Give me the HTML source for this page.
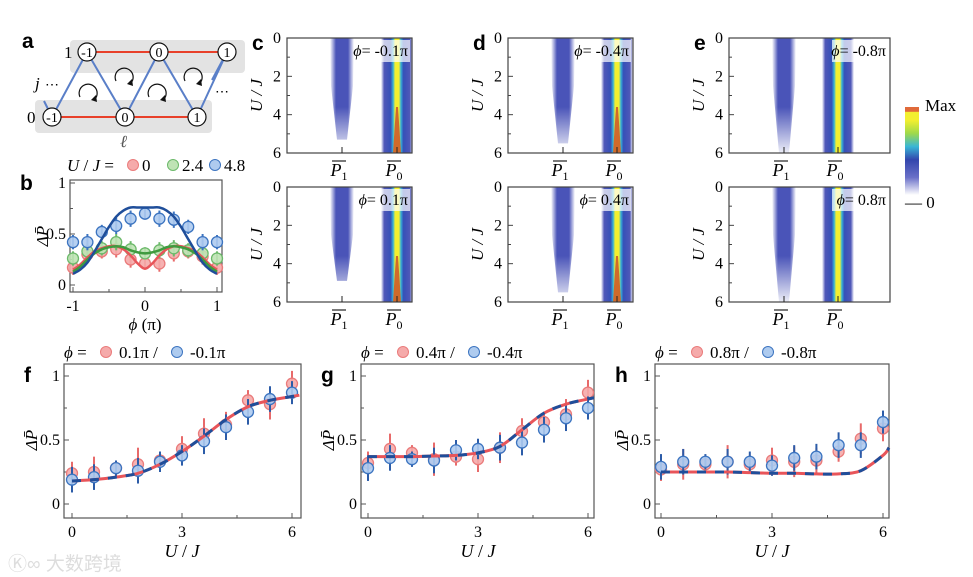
<!DOCTYPE html>
<html><head><meta charset="utf-8">
<style>
body{margin:0;background:#fff;}
svg{display:block;font-family:"Liberation Serif",serif;}
.lt{font-family:"Liberation Sans",sans-serif;font-weight:bold;font-size:21px;}
.tk{font-size:16px;}
.it{font-style:italic;}
</style></head>
<body>
<svg id="fig" width="973" height="577" viewBox="0 0 973 577" xmlns="http://www.w3.org/2000/svg">
<defs>
<linearGradient id="p0g" x1="0" x2="1" y1="0" y2="0">
<stop offset="0" stop-color="#fff"/><stop offset="0.1" stop-color="#5058b8"/><stop offset="0.3" stop-color="#3550b8"/><stop offset="0.38" stop-color="#36b4d8"/><stop offset="0.44" stop-color="#f3ef30"/><stop offset="0.56" stop-color="#f3ef30"/><stop offset="0.62" stop-color="#36b4d8"/><stop offset="0.7" stop-color="#3550b8"/><stop offset="0.9" stop-color="#5058b8"/><stop offset="1" stop-color="#fff"/>
</linearGradient>
<linearGradient id="p1g" x1="0" x2="1" y1="0" y2="0">
<stop offset="0" stop-color="#fff"/><stop offset="0.25" stop-color="#4a54b8"/><stop offset="0.75" stop-color="#4a54b8"/><stop offset="1" stop-color="#fff"/>
</linearGradient>
<linearGradient id="fadeV" x1="0" x2="0" y1="0" y2="1">
<stop offset="0" stop-color="#fff" stop-opacity="0"/><stop offset="0.6" stop-color="#fff" stop-opacity="0"/><stop offset="1" stop-color="#fff" stop-opacity="0.9"/>
</linearGradient>
<linearGradient id="cbar" x1="0" x2="0" y1="1" y2="0">
<stop offset="0" stop-color="#fff"/><stop offset="0.2" stop-color="#6a70c8"/><stop offset="0.4" stop-color="#3346ad"/><stop offset="0.55" stop-color="#39b6d6"/><stop offset="0.7" stop-color="#9fd94a"/><stop offset="0.85" stop-color="#f3ef30"/><stop offset="0.94" stop-color="#f3ef30"/><stop offset="0.95" stop-color="#e06a3a"/><stop offset="1" stop-color="#e06a3a"/>
</linearGradient>
</defs>
<g id="panelA"></g>
<g id="panelB"></g>
<g id="heat"></g>
<g id="lines"></g>
<text x="8" y="570" font-family="Liberation Sans,Noto Sans CJK SC,sans-serif" font-size="19" fill="#ddd">Ⓚ∞ 大数跨境</text>
</svg>
<script>
const NS='http://www.w3.org/2000/svg';
function mk(p,tag,attrs,txt){const e=document.createElementNS(NS,tag);for(const k in attrs)e.setAttribute(k,attrs[k]);if(txt!==undefined)e.textContent=txt;p.appendChild(e);return e;}
const RED='#e8555a',BLUE='#1f4e9a',RF='#f5aaaa',RS='#ea7b7b',BF='#aecbef',BS='#3c74c0',GREEN='#3f9a3f',GF='#bfe3b5',GS='#6cb96a';

// ---------- data: panel b ----------
const bPhi=[-1,-0.8,-0.6,-0.4,-0.2,0,0.2,0.4,0.6,0.8,1];
const bRed=[0.17,0.30,0.33,0.35,0.25,0.21,0.21,0.31,0.33,0.28,0.17];
const bGreen=[0.26,0.33,0.36,0.42,0.35,0.31,0.34,0.36,0.34,0.31,0.26];
const bBlue=[0.42,0.42,0.52,0.58,0.65,0.70,0.65,0.64,0.57,0.42,0.42];
const bErr=[0.07,0.08,0.07,0.08,0.08,0.06,0.08,0.08,0.07,0.08,0.07];
const bFitPhi=[-1,-0.9,-0.8,-0.7,-0.6,-0.5,-0.4,-0.3,-0.2,-0.1,0,0.1,0.2,0.3,0.4,0.5,0.6,0.7,0.8,0.9,1];
const bFitRed=[0.15,0.2,0.27,0.33,0.36,0.38,0.38,0.35,0.29,0.21,0.16,0.21,0.29,0.35,0.38,0.38,0.36,0.33,0.27,0.2,0.15];
const bFitGreen=[0.13,0.18,0.25,0.31,0.35,0.37,0.38,0.37,0.34,0.32,0.31,0.32,0.34,0.37,0.38,0.37,0.35,0.31,0.25,0.18,0.13];
const bFitBlue=[0.11,0.15,0.22,0.33,0.45,0.57,0.67,0.73,0.76,0.76,0.76,0.76,0.76,0.73,0.67,0.57,0.45,0.33,0.22,0.15,0.11];
const bTicksX=[-1,0,1], bTicksY=[0,0.5,1];

// ---------- data: panels f,g,h ----------
const uVals=[0,0.6,1.2,1.8,2.4,3,3.6,4.2,4.8,5.4,6];
const fRed=[0.24,0.25,0.28,0.31,0.34,0.43,0.55,0.62,0.81,0.78,0.94];
const fBlue=[0.19,0.21,0.28,0.26,0.33,0.38,0.49,0.60,0.72,0.82,0.87];
const gRed=[0.32,0.43,0.40,0.35,0.37,0.35,0.44,0.57,0.64,0.70,0.87];
const gBlue=[0.28,0.36,0.35,0.34,0.42,0.43,0.44,0.48,0.58,0.67,0.75];
const hRed=[0.27,0.31,0.31,0.33,0.31,0.34,0.33,0.34,0.41,0.51,0.59];
const hBlue=[0.29,0.33,0.33,0.33,0.33,0.30,0.36,0.37,0.46,0.46,0.64];
const errRed=[0.09,0.12,0.06,0.13,0.07,0.1,0.12,0.1,0.08,0.12,0.1];
const errBlue=[0.1,0.1,0.06,0.1,0.08,0.08,0.1,0.1,0.1,0.1,0.09];
const fitU=[0,0.6,1.2,1.8,2.4,3,3.6,4.2,4.8,5.4,6,6.2];
const fFit=[0.18,0.19,0.21,0.24,0.31,0.41,0.53,0.66,0.76,0.81,0.84,0.85];
const gFit=[0.37,0.37,0.37,0.375,0.38,0.40,0.45,0.58,0.71,0.78,0.82,0.83];
const hFit=[0.25,0.25,0.25,0.25,0.245,0.24,0.24,0.235,0.235,0.26,0.38,0.44];
const lTicksX=[0,3,6], lTicksY=[0,0.5,1];

function smooth(pts){let d='M'+pts[0][0]+','+pts[0][1];for(let i=0;i<pts.length-1;i++){const p0=pts[i-1]||pts[i],p1=pts[i],p2=pts[i+1],p3=pts[i+2]||p2;d+=' C'+(p1[0]+(p2[0]-p0[0])/6)+','+(p1[1]+(p2[1]-p0[1])/6)+' '+(p2[0]-(p3[0]-p1[0])/6)+','+(p2[1]-(p3[1]-p1[1])/6)+' '+p2[0]+','+p2[1];}return d;}
function dots(g,xs,ys,err,sx,sy,fill,stroke,errc,name){
 xs.forEach((x,i)=>{
  const l=mk(g,'line',{x1:sx(x),x2:sx(x),y1:sy(ys[i]-err[i]),y2:sy(ys[i]+err[i]),stroke:errc,'stroke-width':2});
  
  
 });
 xs.forEach((x,i)=>{
  const c=mk(g,'circle',{cx:sx(x),cy:sy(ys[i]),r:5.5,fill:fill,stroke:stroke,'stroke-width':1.3,'fill-opacity':0.9});
  
  
 });
}

// ---------- panel a ----------
(function(){
 const g=document.getElementById('panelA');
 mk(g,'rect',{x:70,y:40,width:175,height:33,rx:4,fill:'#e3e3e3'});
 mk(g,'rect',{x:35,y:100,width:177,height:33,rx:4,fill:'#e3e3e3'});
 const top=[[87,52],[159,52],[227,52]],bot=[[52,117],[125,117],[197,117]];
 mk(g,'line',{x1:87,y1:52,x2:227,y2:52,stroke:'#e8402a','stroke-width':2});
 mk(g,'line',{x1:52,y1:117,x2:197,y2:117,stroke:'#e8402a','stroke-width':2});
 mk(g,'polyline',{points:'52,117 87,52 125,117 159,52 197,117 227,52',fill:'none',stroke:'#5a7fc8','stroke-width':2});
 mk(g,'line',{x1:52,y1:117,x2:44,y2:101,stroke:'#5a7fc8','stroke-width':2});
 mk(g,'line',{x1:227,y1:52,x2:212,y2:80,stroke:'#5a7fc8','stroke-width':2});
 const labs=['-1','0','1'];
 top.concat(bot).forEach((p,i)=>{mk(g,'circle',{cx:p[0],cy:p[1],r:9,fill:'#fff',stroke:'#111','stroke-width':1.2});mk(g,'text',{x:p[0],y:p[1]+5,'text-anchor':'middle','font-size':14},labs[i%3]);});
 [[88,92],[124,76],[157,92],[193,76]].forEach(p=>{mk(g,'path',{d:'M'+(p[0]-8)+','+(p[1]+5)+' A9,9 0 1,1 '+(p[0]+7)+','+(p[1]+7),fill:'none',stroke:'#111','stroke-width':1.2});mk(g,'polygon',{points:(p[0]+9)+','+(p[1]+10)+' '+(p[0]+3)+','+(p[1]+8)+' '+(p[0]+8)+','+(p[1]+3),fill:'#111'});});
 mk(g,'text',{x:22,y:48,class:'lt'},'a');
 mk(g,'text',{x:64,y:58,'font-size':17},'1');
 mk(g,'text',{x:27,y:123,'font-size':17},'0');
 mk(g,'text',{x:35,y:89,'font-size':17,class:'it'},'j');
 mk(g,'text',{x:45,y:89,'font-size':14},'⋯');
 mk(g,'text',{x:215,y:96,'font-size':14},'⋯');
 mk(g,'text',{x:120,y:147,'font-size':17,class:'it',fill:'#555'},'ℓ');
})();

// ---------- panel b ----------
(function(){
 const g=document.getElementById('panelB');
 const X0=73,X1=217,Y0=285,Y1=183;
 const sx=v=>X0+(v+1)/2*(X1-X0), sy=v=>Y0-v*(Y0-Y1);
 mk(g,'rect',{x:70,y:180,width:152,height:112,fill:'none',stroke:'#555','stroke-width':1.2});
 bTicksX.forEach(t=>{mk(g,'line',{x1:sx(t),x2:sx(t),y1:292,y2:287,stroke:'#555'});mk(g,'text',{x:sx(t),y:311,'text-anchor':'middle',class:'tk'},t);});
 [-0.5,0.5].forEach(t=>mk(g,'line',{x1:sx(t),x2:sx(t),y1:292,y2:289,stroke:'#555'}));
 bTicksY.forEach(t=>{mk(g,'line',{x1:70,x2:75,y1:sy(t),y2:sy(t),stroke:'#555'});mk(g,'text',{x:66,y:sy(t)+5,'text-anchor':'end',class:'tk'},t);});
 [0.25,0.75].forEach(t=>mk(g,'line',{x1:70,x2:73,y1:sy(t),y2:sy(t),stroke:'#555'}));
 dots(g,bPhi,bRed,bErr,sx,sy,RF,RS,'#e86a6a','b-red');
 dots(g,bPhi,bGreen,bErr,sx,sy,GF,GS,'#6cb96a','b-green');
 dots(g,bPhi,bBlue,bErr,sx,sy,BF,BS,'#3c74c0','b-blue');
 [[bFitRed,RED],[bFitGreen,GREEN],[bFitBlue,BLUE]].forEach(s=>mk(g,'path',{d:smooth(bFitPhi.map((p,i)=>[sx(p),sy(s[0][i])])),fill:'none',stroke:s[1],'stroke-width':2.5}));
 mk(g,'text',{x:20,y:190,class:'lt'},'b');
 mk(g,'text',{x:145,y:330,'text-anchor':'middle','font-size':17},'').innerHTML='<tspan font-style="italic">ϕ</tspan> (π)';
 mk(g,'text',{x:48,y:236,'text-anchor':'middle','font-size':17,transform:'rotate(-90 48 236)',class:'it'},'ΔP̄');
 mk(g,'text',{x:67,y:171,'font-size':17},'').innerHTML='<tspan font-style="italic">U</tspan> / <tspan font-style="italic">J</tspan> =';
 [[133,RF,RS,'0'],[173,GF,GS,'2.4'],[215,BF,BS,'4.8']].forEach(l=>{mk(g,'circle',{cx:l[0],cy:165,r:5.5,fill:l[1],stroke:l[2]});mk(g,'text',{x:l[0]+9,y:171,'font-size':17},l[3]);});
})();

// ---------- heatmaps ----------
const heatPanels=[['c',287,412,342,397,'-0.1π','0.1π',5.3,4.9],['d',508,633,563,617,'-0.4π','0.4π',5.5,5.5],['e',729,890,784,838,'-0.8π','0.8π',6,6]];
(function(){
 const g=document.getElementById('heat');
 heatPanels.forEach(p=>{
  const [L,x0,x1,p1,p0,phiT,phiB,endT,endB]=p;
  [[38,153,phiT,endT],[187,302,phiB,endB]].forEach((r,k)=>{
   const [y0,y1,phi,end]=r; const sy=u=>y0+u/6*(y1-y0);
   const sub=mk(g,'g',{});
   
   
   mk(sub,'path',{d:'M'+(p1-12)+','+y0+' L'+(p1+12)+','+y0+' L'+(p1+11)+','+sy(2.5)+' L'+(p1+5)+','+sy(end)+' L'+(p1-5)+','+sy(end)+' L'+(p1-11)+','+sy(2.5)+'Z',fill:'url(#p1g)'});
   mk(sub,'rect',{x:p1-14,y:y0,width:28,height:y1-y0,fill:'url(#fadeV)'});
   mk(sub,'rect',{x:p0-16,y:y0,width:32,height:y1-y0,fill:'url(#p0g)'});
   if(L!=='e') mk(sub,'polygon',{points:(p0-1)+','+sy(3.6)+' '+(p0+1)+','+sy(3.6)+' '+(p0+4)+','+y1+' '+(p0-4)+','+y1,fill:'#d06a2a'});
   mk(sub,'rect',{x:x1-58,y:y0+2,width:56,height:22,fill:'#fff','fill-opacity':0.7});
   mk(sub,'text',{x:x1-4,y:y0+18,'text-anchor':'end','font-size':16},'').innerHTML='<tspan font-style="italic">ϕ</tspan>= '+phi;
   mk(sub,'rect',{x:x0,y:y0,width:x1-x0,height:y1-y0,fill:'none',stroke:'#444','stroke-width':1.2});
   [0,2,4,6].forEach(t=>{mk(sub,'line',{x1:x0,x2:x0+5,y1:sy(t),y2:sy(t),stroke:'#444'});mk(sub,'text',{x:x0-6,y:sy(t)+5,'text-anchor':'end',class:'tk'},t);});
   [1,3,5].forEach(t=>mk(sub,'line',{x1:x0,x2:x0+3,y1:sy(t),y2:sy(t),stroke:'#444'}));
   [[p1,'1'],[p0,'0']].forEach(q=>{mk(sub,'line',{x1:q[0],x2:q[0],y1:y1,y2:y1-6,stroke:'#222'});mk(sub,'text',{x:q[0]-3,y:y1+23,'text-anchor':'middle','font-size':18,class:'it'},'').innerHTML='P<tspan font-style="normal" font-size="12" dy="4">'+q[1]+'</tspan>';mk(sub,'line',{x1:q[0]-10,x2:q[0]+4,y1:y1+8,y2:y1+8,stroke:'#222','stroke-width':1.2});});
   mk(sub,'text',{x:x0-25,y:(y0+y1)/2,'text-anchor':'middle','font-size':17,class:'it',transform:'rotate(-90 '+(x0-25)+' '+(y0+y1)/2+')'},'U / J');
  });
  mk(g,'text',{x:x0-35,y:50,class:'lt'},L);
 });
 mk(g,'rect',{x:905,y:107,width:14,height:88,fill:'url(#cbar)'});
 mk(g,'text',{x:925,y:111,'font-size':17},'Max');
 mk(g,'text',{x:905,y:208,'font-size':17},'— 0');
})();

// ---------- f g h ----------
const linePanels=[['f',64,301,72,292,fRed,fBlue,fFit,'0.1π','-0.1π'],['g',361,594,368,588,gRed,gBlue,gFit,'0.4π','-0.4π'],['h',655,889,661,883,hRed,hBlue,hFit,'0.8π','-0.8π']];
(function(){
 const root=document.getElementById('lines');
 linePanels.forEach(p=>{
  const [L,bx0,bx1,X0,X1,red,blue,fit,pr,pb]=p;
  const g=mk(root,'g',{});
  
  
  const Y0=504,Y1=376;
  const sx=v=>X0+v/6*(X1-X0), sy=v=>Y0-v*(Y0-Y1);
  mk(g,'rect',{x:bx0,y:364,width:bx1-bx0,height:154,fill:'none',stroke:'#555','stroke-width':1.2});
  lTicksX.forEach(t=>{mk(g,'line',{x1:sx(t),x2:sx(t),y1:518,y2:513,stroke:'#555'});mk(g,'text',{x:sx(t),y:537,'text-anchor':'middle',class:'tk'},t);});
  [1.5,4.5].forEach(t=>mk(g,'line',{x1:sx(t),x2:sx(t),y1:518,y2:515,stroke:'#555'}));
  lTicksY.forEach(t=>{mk(g,'line',{x1:bx0,x2:bx0+5,y1:sy(t),y2:sy(t),stroke:'#555'});mk(g,'text',{x:bx0-4,y:sy(t)+5,'text-anchor':'end',class:'tk'},t);});
  [0.25,0.75].forEach(t=>mk(g,'line',{x1:bx0,x2:bx0+3,y1:sy(t),y2:sy(t),stroke:'#555'}));
  dots(g,uVals,red,errRed,sx,sy,RF,RS,'#e86a6a',L+'-red');
  dots(g,uVals,blue,errBlue,sx,sy,BF,BS,'#2c5ca8',L+'-blue');
  const d=smooth(fitU.map((u,i)=>[Math.min(sx(u),bx1),sy(fit[i])]));
  mk(g,'path',{d:d,fill:'none',stroke:RED,'stroke-width':3});
  mk(g,'path',{d:d,fill:'none',stroke:BLUE,'stroke-width':3,'stroke-dasharray':'9 9'});
  mk(g,'text',{x:bx0-40,y:382,class:'lt'},L);
  mk(g,'text',{x:(X0+X1)/2,y:557,'text-anchor':'middle','font-size':18},'').innerHTML='<tspan font-style="italic">U</tspan> / <tspan font-style="italic">J</tspan>';
  mk(g,'text',{x:bx0-27,y:440,'text-anchor':'middle','font-size':17,class:'it',transform:'rotate(-90 '+(bx0-27)+' 440)'},'ΔP̄');
  mk(g,'text',{x:bx0,y:358,'font-size':17},'').innerHTML='<tspan font-style="italic">ϕ</tspan> =';
  mk(g,'circle',{cx:bx0+42,cy:352,r:5.5,fill:RF,stroke:RS});
  mk(g,'text',{x:bx0+55,y:358,'font-size':17},pr+' /');
  mk(g,'circle',{cx:bx0+113,cy:352,r:5.5,fill:BF,stroke:BS});
  mk(g,'text',{x:bx0+126,y:358,'font-size':17},pb);
 });
})();
</script>
</body></html>
